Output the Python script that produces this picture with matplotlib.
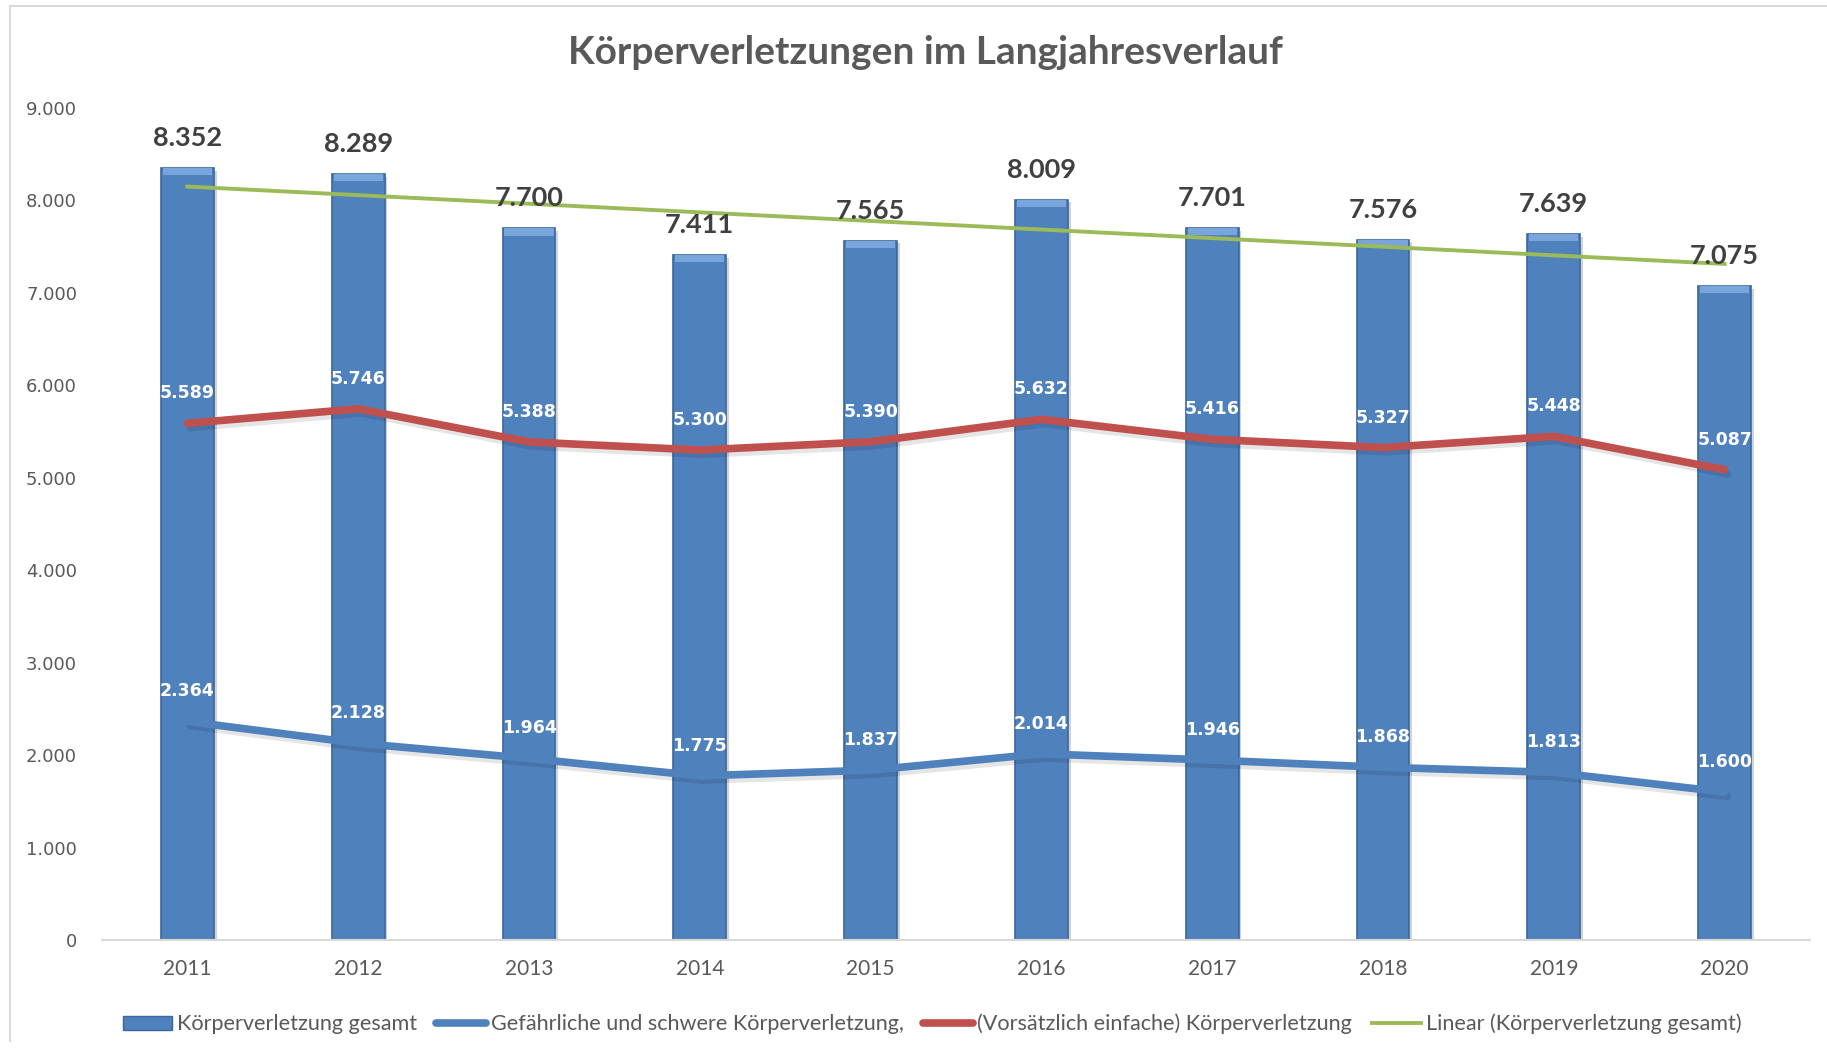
import matplotlib
matplotlib.use("Agg")
import matplotlib.pyplot as plt
import numpy as np
from matplotlib.lines import Line2D
from matplotlib.patches import Patch
import matplotlib.patheffects as pe

years = ["2011", "2012", "2013", "2014", "2015", "2016", "2017", "2018", "2019", "2020"]
total = [8352, 8289, 7700, 7411, 7565, 8009, 7701, 7576, 7639, 7075]
severe = [2364, 2128, 1964, 1775, 1837, 2014, 1946, 1868, 1813, 1600]
simple = [5589, 5746, 5388, 5300, 5390, 5632, 5416, 5327, 5448, 5087]
yticks = [0, 1000, 2000, 3000, 4000, 5000, 6000, 7000, 8000, 9000]

title = "Körperverletzungen im Langjahresverlauf"
leg_labels = ["Körperverletzung gesamt", "Gefährliche und schwere Körperverletzung,",
              "(Vorsätzlich einfache) Körperverletzung", "Linear (Körperverletzung gesamt)"]

BLUE = "#4F81BD"
RED = "#C0504D"
GREEN = "#9BBB59"
GRAY = "#595959"
CAL = ["Lato", "DejaVu Sans"]

def fmt(v):
    return f"{v:,}".replace(",", ".")

fig = plt.figure(figsize=(18.27, 10.57), dpi=100)
W, H = 1827, 1057
ax = fig.add_axes([102 / W, 1 - 940 / H, (1810 - 102) / W, (940 - 108) / H])

x = np.arange(len(years))
bw = 0.31
shadow = [pe.SimplePatchShadow(offset=(2, -2), alpha=0.2), pe.Normal()]
ax.bar(x, total, width=bw, color=BLUE, edgecolor="#3A679E", linewidth=1.2, zorder=2,
       path_effects=shadow)
bevel = 80
ax.bar(x, [bevel] * len(x), bottom=np.array(total) - bevel, width=bw * 0.93, color="#79A5DA",
       edgecolor="none", linewidth=0, zorder=2.1)

line_shadow = [pe.SimpleLineShadow(offset=(2, -3), alpha=0.1), pe.Normal()]
ax.plot(x, severe, color=BLUE, lw=5.5, zorder=3, solid_capstyle="round", path_effects=line_shadow)
ax.plot(x, simple, color=RED, lw=5.5, zorder=3, solid_capstyle="round", path_effects=line_shadow)

coef = np.polyfit(x, total, 1)
trend = np.polyval(coef, x)
ax.plot(x, trend, color=GREEN, lw=2.8, zorder=3.5)

for xi, v in zip(x, total):
    ax.annotate(fmt(v), (xi, v), xytext=(0, 30), textcoords="offset pixels", ha="center",
                va="center", fontsize=19.5, fontweight="bold", color="#404040", family=CAL, zorder=5)
for series in (severe, simple):
    for xi, v in zip(x, series):
        ax.annotate(fmt(v), (xi, v), xytext=(0, 30), textcoords="offset pixels", ha="center",
                    va="center", fontsize=12.5, fontweight="bold", color="white",
                    family="DejaVu Sans", zorder=5)

ax.set_xlim(-0.5, len(years) - 0.5)
ax.set_ylim(0, 9000)
ax.set_yticks(yticks)
ax.set_yticklabels([fmt(v) for v in yticks], fontsize=13, color=GRAY, family="DejaVu Sans")
ax.set_xticks(x)
ax.set_xticklabels(years, fontsize=15, color=GRAY, family=CAL)
ax.tick_params(axis="both", length=0)
ax.tick_params(axis="y", pad=18)
ax.tick_params(axis="x", pad=14)
for s in ("top", "right", "left"):
    ax.spines[s].set_visible(False)
ax.spines["bottom"].set_color("#D9D9D9")
ax.spines["bottom"].set_linewidth(1.5)

fig.text(925 / W, 1 - 52 / H, title, ha="center", va="center", fontsize=28, fontweight="bold",
         color=GRAY, family=CAL)

handles = [Patch(facecolor=BLUE, edgecolor="#3A679E"),
           Line2D([], [], color=BLUE, lw=5.5, solid_capstyle="round"),
           Line2D([], [], color=RED, lw=5.5, solid_capstyle="round"),
           Line2D([], [], color=GREEN, lw=2.8)]
leg = fig.legend(handles, leg_labels, loc="center", bbox_to_anchor=(932 / W, 1 - 1024 / H), ncol=4,
                 frameon=False, prop={"family": CAL, "size": 15.6}, handlelength=2.3,
                 handletextpad=0.2, columnspacing=0.9, handleheight=0.6)
for t in leg.get_texts():
    t.set_color(GRAY)

fig.add_artist(Line2D([10 / W, 10 / W], [0.015, 1 - 6 / H], color="#D9D9D9", lw=1.5,
                      transform=fig.transFigure))
fig.add_artist(Line2D([10 / W, 1.0], [1 - 6 / H, 1 - 6 / H], color="#D9D9D9", lw=1.5,
                      transform=fig.transFigure))

fig.savefig("out.png", dpi=100)
